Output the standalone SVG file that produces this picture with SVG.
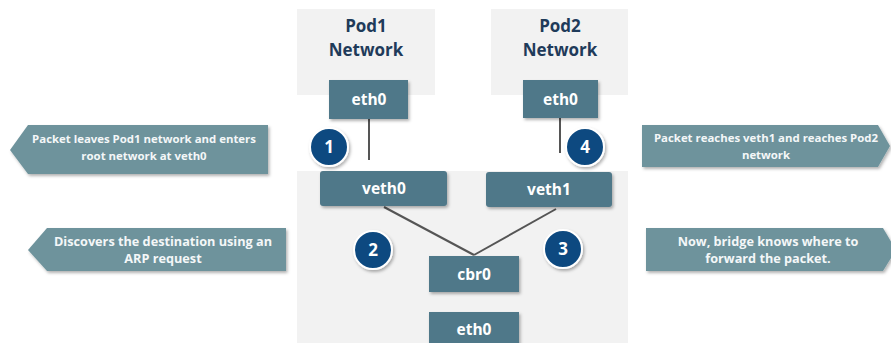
<svg xmlns="http://www.w3.org/2000/svg" width="891" height="343" viewBox="0 0 891 343">
  <defs>
    <filter id="shadow" x="-20%" y="-20%" width="150%" height="160%">
      <feDropShadow dx="1.5" dy="2" stdDeviation="1.5" flood-color="#000" flood-opacity="0.3"/>
    </filter>
    <style>
      .zone { fill: #f2f2f2; }
      .zone-label { font-family: "Open Sans", "Liberation Sans", sans-serif; font-weight: bold; font-size: 17px; fill: #1f3b5a; text-anchor: middle; }
      .node rect { fill: #4f7889; filter: url(#shadow); }
      .node text { font-family: "Open Sans", "Liberation Sans", sans-serif; font-weight: bold; font-size: 15.5px; fill: #ffffff; text-anchor: middle; }
      .step circle { fill: #0e4a80; stroke: #ffffff; stroke-width: 2; filter: url(#shadow); }
      .step text { font-family: "Open Sans", "Liberation Sans", sans-serif; font-weight: bold; font-size: 17px; fill: #ffffff; text-anchor: middle; }
      .note path { fill: #6e939c; filter: url(#shadow); }
      .note text { font-family: "Open Sans", "Liberation Sans", sans-serif; font-weight: bold; fill: #f4f7f8; text-anchor: middle; }
      .small text { font-size: 11.4px; }
      .large text { font-size: 12.7px; }
      .links line { stroke: #555555; stroke-width: 2; }
    </style>
  </defs>

  <rect width="891" height="343" fill="#ffffff"/>

  <!-- network zones -->
  <g id="pod1-network">
    <rect class="zone" x="297" y="9" width="138" height="86"/>
    <text class="zone-label" x="366" y="32">Pod1</text>
    <text class="zone-label" x="366" y="56">Network</text>
  </g>
  <g id="pod2-network">
    <rect class="zone" x="491" y="9" width="137" height="86"/>
    <text class="zone-label" x="560" y="32">Pod2</text>
    <text class="zone-label" x="560" y="56">Network</text>
  </g>
  <g id="root-network">
    <rect class="zone" x="297" y="171" width="331" height="172"/>
  </g>

  <!-- connectors -->
  <g id="connectors" class="links">
    <line x1="369" y1="119" x2="369" y2="160"/>
    <line x1="560" y1="118" x2="560" y2="153"/>
    <line x1="384" y1="207" x2="474" y2="255"/>
    <line x1="556" y1="209" x2="474" y2="255"/>
  </g>

  <!-- interfaces -->
  <g id="pod1-eth0" class="node">
    <rect x="329" y="80" width="79" height="39"/>
    <text x="369" y="105">eth0</text>
  </g>
  <g id="pod2-eth0" class="node">
    <rect x="523" y="80" width="75" height="38"/>
    <text x="560.5" y="105">eth0</text>
  </g>
  <g id="veth0" class="node">
    <rect x="320" y="171" width="127" height="35" rx="3"/>
    <text x="384" y="194">veth0</text>
  </g>
  <g id="veth1" class="node">
    <rect x="486" y="172" width="126" height="35" rx="3"/>
    <text x="549" y="195">veth1</text>
  </g>
  <g id="cbr0" class="node">
    <rect x="429" y="256" width="90" height="36"/>
    <text x="474" y="280">cbr0</text>
  </g>
  <g id="root-eth0" class="node">
    <rect x="429" y="312" width="90" height="34"/>
    <text x="474" y="335">eth0</text>
  </g>

  <!-- step markers -->
  <g id="step1" class="step">
    <circle cx="329" cy="147" r="19"/>
    <text x="329" y="153">1</text>
  </g>
  <g id="step2" class="step">
    <circle cx="373" cy="250" r="19"/>
    <text x="373" y="256">2</text>
  </g>
  <g id="step3" class="step">
    <circle cx="563" cy="249" r="19"/>
    <text x="563" y="255">3</text>
  </g>
  <g id="step4" class="step">
    <circle cx="585" cy="147" r="19"/>
    <text x="585" y="153">4</text>
  </g>

  <!-- side notes -->
  <g id="note1" class="note small">
    <path d="M10 150 L28 125 L268 125 L268 174 L28 174 Z"/>
    <text x="144" y="143">Packet leaves Pod1 network and enters</text>
    <text x="144" y="160">root network at veth0</text>
  </g>
  <g id="note2" class="note large">
    <path d="M28 250 L47 228 L286 228 L286 271 L47 271 Z"/>
    <text x="163" y="246">Discovers the destination using an</text>
    <text x="163" y="263">ARP request</text>
  </g>
  <g id="note3" class="note large">
    <path d="M646 228 L883 228 L896 250 L883 271 L646 271 Z"/>
    <text x="768" y="246">Now, bridge knows where to</text>
    <text x="768" y="263">forward the packet.</text>
  </g>
  <g id="note4" class="note small">
    <path d="M642 125 L878 125 L890 146 L878 167 L642 167 Z"/>
    <text x="766" y="142">Packet reaches veth1 and reaches Pod2</text>
    <text x="766" y="159">network</text>
  </g>
</svg>
